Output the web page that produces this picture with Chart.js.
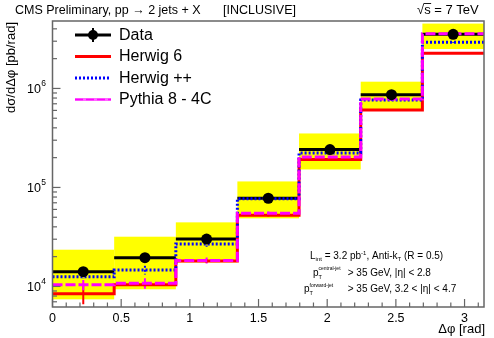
<!DOCTYPE html>
<html><head><meta charset="utf-8">
<script src="https://cdn.jsdelivr.net/npm/chart.js@4"></script>
<style>html,body{margin:0;padding:0;background:#fff}canvas{display:block}</style>
</head><body>
<canvas id="c" width="494" height="338"></canvas>
<script>
// ---- data ----
const binEdges   = [0, 0.449, 0.898, 1.346, 1.795, 2.244, 2.693, 3.142];
const binCenters = [0.224, 0.673, 1.122, 1.571, 2.020, 2.468, 2.917];
const dataValues = [14100, 19500, 30100, 77800, 241000, 865000, 3520000];
const dataStatErr = [300, 350, 450, 900, 2500, 8000, 30000];
const sysLow  = [7410, 9360, 17500, 48700, 152000, 596000, 2500000];
const sysHigh = [23500, 31800, 44400, 115000, 351000, 1170000, 4520000];
const herwig6  = [8450, 10400, 18100, 52400, 191000, 605000, 2270000];
const herwig6Err  = [0.22, 0.05, 0.04, 0.03, 0.02, 0.02, 0.01];
const herwigpp = [12500, 14700, 26800, 76700, 223000, 764000, 2920000];
const herwigppErr = [0.05, 0.10, 0.06, 0.04, 0.02, 0.02, 0.01];
const pythia8  = [10400, 10800, 18300, 54800, 203000, 782000, 3570000];
const pythia8Err  = [0.12, 0.12, 0.07, 0.04, 0.03, 0.02, 0.02];
const xTickLabels = [0, 0.5, 1, 1.5, 2, 2.5, 3];
const yTickLabels = [1e4, 1e5, 1e6];
const legendLabels = ['Data', 'Herwig 6', 'Herwig ++', 'Pythia 8 - 4C'];

const F = "'Liberation Sans', Arial, Helvetica, sans-serif";
const FRAME = '#666666';

function stepPoints(vals){
  const pts = vals.map((v,i)=>({x:binEdges[i], y:v}));
  pts.push({x:binEdges[binEdges.length-1], y:vals[vals.length-1]});
  return pts;
}

function rich(ctx, x, y, parts){
  let cx = x;
  for (const p of parts){
    ctx.font = p.s + 'px ' + F;
    ctx.fillText(p.t, cx, y + (p.dy||0));
    if (!p.keep) cx += ctx.measureText(p.t).width;
  }
  return cx;
}

const rootPlugin = {
  id: 'rootStyle',
  beforeDatasetsDraw(chart){
    const {ctx, chartArea:a, scales:{x, y}} = chart;
    ctx.save();
    ctx.beginPath(); ctx.rect(a.left, a.top, a.right-a.left, a.bottom-a.top); ctx.clip();
    // systematic band
    ctx.fillStyle = '#ffff00';
    for (let i=0;i<dataValues.length;i++){
      const x0 = x.getPixelForValue(binEdges[i]), x1 = x.getPixelForValue(binEdges[i+1]);
      const yt = y.getPixelForValue(sysHigh[i]), yb = y.getPixelForValue(sysLow[i]);
      ctx.fillRect(x0, yt, x1-x0, yb-yt);
    }
    // data horizontal bars
    ctx.strokeStyle = '#000'; ctx.lineWidth = 3;
    for (let i=0;i<dataValues.length;i++){
      const x0 = x.getPixelForValue(binEdges[i]), x1 = x.getPixelForValue(binEdges[i+1]);
      const yy = y.getPixelForValue(dataValues[i]);
      ctx.beginPath(); ctx.moveTo(x0, yy); ctx.lineTo(x1, yy); ctx.stroke();
    }
    // MC error bars
    const mc = [[herwig6, herwig6Err, '#ff0000', []], [herwigpp, herwigppErr, '#0000ff', [2,2]], [pythia8, pythia8Err, '#ff00ff', []]];
    for (const [vals, errs, col, dash] of mc){
      ctx.strokeStyle = col; ctx.lineWidth = 2; ctx.setLineDash(dash);
      for (let i=0;i<vals.length;i++){
        const xc = x.getPixelForValue(binCenters[i]);
        ctx.beginPath();
        ctx.moveTo(xc, y.getPixelForValue(vals[i]*(1+errs[i])));
        ctx.lineTo(xc, y.getPixelForValue(vals[i]*(1-errs[i])));
        ctx.stroke();
      }
    }
    ctx.setLineDash([]);
    // data stat errors
    ctx.strokeStyle = '#000'; ctx.lineWidth = 2;
    for (let i=0;i<dataValues.length;i++){
      const xc = x.getPixelForValue(binCenters[i]);
      ctx.beginPath();
      ctx.moveTo(xc, y.getPixelForValue(dataValues[i]+dataStatErr[i]));
      ctx.lineTo(xc, y.getPixelForValue(dataValues[i]-dataStatErr[i]));
      ctx.stroke();
    }
    ctx.restore();
  },
  afterDraw(chart){
    const {ctx, chartArea:a, scales:{x, y}} = chart;
    ctx.save();
    // frame
    ctx.strokeStyle = FRAME; ctx.lineWidth = 1.5;
    ctx.strokeRect(a.left, a.top, a.right-a.left, a.bottom-a.top);
    // x ticks (inside)
    ctx.lineWidth = 1.2;
    for (let k=0;k<=31;k++){
      const v = k/10;
      if (v > x.max) break;
      const px = x.getPixelForValue(v);
      const len = (k%5===0) ? 8 : 4.5;
      ctx.beginPath(); ctx.moveTo(px, a.bottom); ctx.lineTo(px, a.bottom-len); ctx.stroke();
    }
    // y ticks (inside)
    for (let d=3; d<=6; d++){
      for (let m=1; m<=9; m++){
        const v = m*Math.pow(10,d);
        if (v < y.min || v > y.max) continue;
        const py = y.getPixelForValue(v);
        const len = (m===1) ? 8 : 4.5;
        ctx.beginPath(); ctx.moveTo(a.left, py); ctx.lineTo(a.left+len, py); ctx.stroke();
      }
    }
    // y tick labels 10^n
    ctx.fillStyle = '#000'; ctx.textBaseline = 'alphabetic';
    for (const v of yTickLabels){
      const py = y.getPixelForValue(v);
      const e = String(Math.round(Math.log10(v)));
      ctx.font = '8.5px ' + F;
      const ew = ctx.measureText(e).width;
      ctx.textAlign = 'left';
      ctx.fillText(e, 46 - ew, py - 2.5);
      ctx.textAlign = 'right';
      ctx.font = '12.5px ' + F;
      ctx.fillText('10', 46 - ew - 0.3, py + 4.5);
    }
    ctx.textAlign = 'left';
    // title
    ctx.font = '12.5px ' + F;
    ctx.fillText('CMS Preliminary, pp \u2192 2 jets + X', 15, 13.5);
    ctx.fillText('[INCLUSIVE]', 223, 13.5);
    ctx.font = '13px ' + F;
    const sq = ctx.measureText('\u221A').width;
    const sw = ctx.measureText('s').width;
    ctx.fillText('\u221As = 7 TeV', 417, 14);
    ctx.strokeStyle = '#000'; ctx.lineWidth = 0.9;
    ctx.beginPath(); ctx.moveTo(417+sq-0.5, 3.5); ctx.lineTo(417+sq+sw+0.5, 3.5); ctx.stroke();
    // y axis title
    ctx.save();
    ctx.translate(15, 22); ctx.rotate(-Math.PI/2);
    ctx.textAlign = 'right'; ctx.font = '13px ' + F;
    ctx.fillText('d\u03C3/d\u0394\u03C6 [pb/rad]', 0, 0);
    ctx.restore();
    // x axis title
    ctx.textAlign = 'right'; ctx.font = '13px ' + F;
    ctx.fillText('\u0394\u03C6 [rad]', 485, 333);
    ctx.textAlign = 'left';
    // legend
    const ly = [35, 56.5, 78, 99.5];
    const lx0 = 75, lx1 = 111;
    ctx.strokeStyle = '#000'; ctx.lineWidth = 3;
    ctx.beginPath(); ctx.moveTo(lx0, ly[0]); ctx.lineTo(lx1, ly[0]); ctx.stroke();
    ctx.lineWidth = 2;
    ctx.beginPath(); ctx.moveTo((lx0+lx1)/2, ly[0]-7); ctx.lineTo((lx0+lx1)/2, ly[0]+7); ctx.stroke();
    ctx.fillStyle = '#000';
    ctx.beginPath(); ctx.arc((lx0+lx1)/2, ly[0], 5, 0, Math.PI*2); ctx.fill();
    ctx.strokeStyle = '#ff0000'; ctx.lineWidth = 3;
    ctx.beginPath(); ctx.moveTo(lx0, ly[1]); ctx.lineTo(lx1, ly[1]); ctx.stroke();
    ctx.strokeStyle = '#0000ff'; ctx.setLineDash([2,2]);
    ctx.beginPath(); ctx.moveTo(lx0, ly[2]); ctx.lineTo(lx1, ly[2]); ctx.stroke();
    ctx.strokeStyle = '#ff66ff'; ctx.setLineDash([]);
    ctx.beginPath(); ctx.moveTo(lx0, ly[3]); ctx.lineTo(lx1, ly[3]); ctx.stroke();
    ctx.strokeStyle = '#ff00ff'; ctx.setLineDash([8,3]); ctx.lineWidth = 1.5;
    ctx.beginPath(); ctx.moveTo(lx0, ly[3]); ctx.lineTo(lx1, ly[3]); ctx.stroke();
    ctx.setLineDash([]);
    ctx.fillStyle = '#000'; ctx.font = '16px ' + F; ctx.textBaseline = 'middle';
    legendLabels.forEach((t,i)=>ctx.fillText(t, 119, ly[i]+0.5));
    ctx.textBaseline = 'alphabetic';
    // annotation
    rich(ctx, 310, 258.5, [
      {t:'L', s:10}, {t:'int', s:6, dy:2.5}, {t:' = 3.2 pb', s:10}, {t:'-1', s:6, dy:-4},
      {t:', Anti-k', s:10}, {t:'T', s:6, dy:2.5}, {t:' (R = 0.5)', s:10}
    ]);
    let px = rich(ctx, 313, 275.5, [{t:'p', s:10}]);
    rich(ctx, px, 275.5, [{t:'T', s:5.5, dy:3, keep:true}, {t:'central-jet', s:5, dy:-5.5}]);
    rich(ctx, 347.7, 275.5, [{t:'> 35 GeV, |\u03B7| < 2.8', s:10}]);
    px = rich(ctx, 304, 292, [{t:'p', s:10}]);
    rich(ctx, px, 292, [{t:'T', s:5.5, dy:3, keep:true}, {t:'forward-jet', s:5, dy:-5.5}]);
    rich(ctx, 347.7, 292, [{t:'> 35 GeV, 3.2 < |\u03B7| < 4.7', s:10}]);
    ctx.restore();
  }
};

new Chart(document.getElementById('c'), {
  type: 'line',
  data: {
    datasets: [
      {label: legendLabels[1], data: stepPoints(herwig6), stepped: true, borderColor: '#ff0000', borderWidth: 3, pointRadius: 0, fill: false, order: 4},
      {label: legendLabels[2], data: stepPoints(herwigpp), stepped: true, borderColor: '#0000ff', borderWidth: 3, borderDash: [2,2], pointRadius: 0, fill: false, order: 3},
      {label: legendLabels[3], data: stepPoints(pythia8), stepped: true, borderColor: '#ff00ff', borderWidth: 3, borderDash: [10,3], pointRadius: 0, fill: false, order: 2},
      {label: legendLabels[0], data: binCenters.map((c,i)=>({x:c, y:dataValues[i]})), showLine: false, pointRadius: 5.5, pointBackgroundColor: '#000', pointBorderColor: '#000', pointBorderWidth: 0, order: 1}
    ]
  },
  options: {
    responsive: false,
    devicePixelRatio: 1,
    animation: false,
    events: [],
    layout: {padding: {top: 21, right: 10, left: 0, bottom: 0}},
    plugins: {legend: {display: false}, tooltip: {enabled: false}, title: {display: false}},
    scales: {
      x: {
        type: 'linear', position: 'bottom', min: 0, max: Math.PI,
        grid: {display: false, drawTicks: false, tickLength: 0}, border: {display: false},
        afterBuildTicks: s => { s.ticks = xTickLabels.map(v=>({value: v})); },
        afterFit: s => { s.height = 31; },
        ticks: {autoSkip: false, maxRotation: 0, padding: 4, color: '#000', font: {family: F, size: 12.5},
          callback: v => String(v)}
      },
      y: {
        type: 'logarithmic', position: 'left', min: 6200, max: 4.8e6,
        grid: {display: false, drawTicks: false, tickLength: 0}, border: {display: false},
        afterBuildTicks: s => { s.ticks = yTickLabels.map(v=>({value: v})); },
        afterFit: s => { s.width = 52.5; },
        ticks: {display: false}
      }
    }
  },
  plugins: [rootPlugin]
});
</script>
</body></html>
